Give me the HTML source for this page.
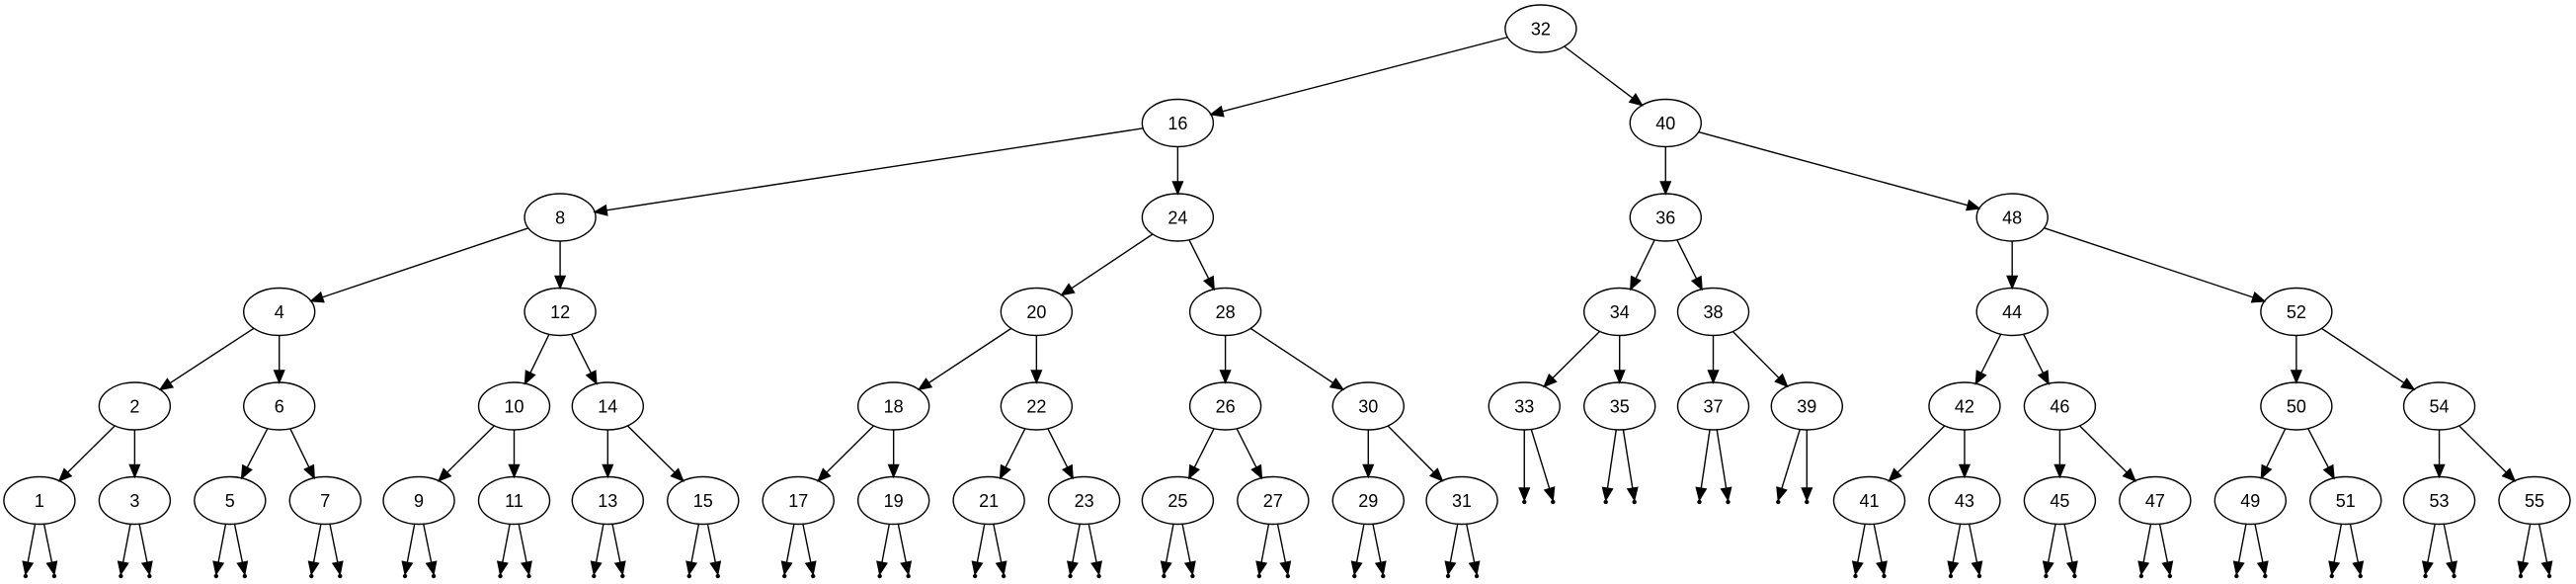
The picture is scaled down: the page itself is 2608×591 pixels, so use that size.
<!DOCTYPE html>
<html><head><meta charset="utf-8"><style>
html,body{margin:0;padding:0;background:#fff;}
svg{display:block;}
text{font-family:"Liberation Sans",Arial,sans-serif;font-size:18px;}
</style></head><body>
<svg id="s" width="2608" height="591" xmlns="http://www.w3.org/2000/svg"></svg>
<script>
const F=1.663;
const Y=[29,124.5,220,315.5,411,506.5];
const nodes={
32:[938,0],16:[717,1],40:[1014,1],
8:[341,2],24:[717,2],36:[1014,2],48:[1225,2],
4:[170,3],12:[341,3],20:[631,3],28:[746,3],34:[986,3],38:[1043,3],44:[1225,3],52:[1398,3],
2:[82,4],6:[170,4],10:[313,4],14:[370,4],18:[544,4],22:[631,4],26:[746,4],30:[833,4],33:[928,4],35:[986,4],37:[1043,4],39:[1100,4],42:[1196,4],46:[1254,4],50:[1398,4],54:[1485,4],
1:[24,5],3:[82,5],5:[140,5],7:[198,5],9:[255,5],11:[313,5],13:[370,5],15:[428,5],17:[486,5],19:[544,5],21:[602,5],23:[660,5],25:[717,5],27:[775,5],29:[833,5],31:[890,5],41:[1138,5],43:[1196,5],45:[1254,5],47:[1312,5],49:[1370,5],51:[1428,5],53:[1485,5],55:[1543,5]};
const edges=[[32,16],[32,40],[16,8],[16,24],[40,36],[40,48],[8,4],[8,12],[24,20],[24,28],[36,34],[36,38],[48,44],[48,52],
[4,2],[4,6],[12,10],[12,14],[20,18],[20,22],[28,26],[28,30],[34,33],[34,35],[38,37],[38,39],[44,42],[44,46],[52,50],[52,54],
[2,1],[2,3],[6,5],[6,7],[10,9],[10,11],[14,13],[14,15],[18,17],[18,19],[22,21],[22,23],[26,25],[26,27],[30,29],[30,31],[42,41],[42,43],[46,45],[46,47],[50,49],[50,51],[54,53],[54,55]];
const RX=36,RY=24;
let out='';
function P(k){const n=nodes[k];return [n[0]*F,Y[n[1]]];}
function clipE(cx,cy,dx,dy){const t=1/Math.sqrt((dx*dx)/(RX*RX)+(dy*dy)/(RY*RY));return [cx+dx*t,cy+dy*t];}
function arrow(x1,y1,x2,y2){
 const dx=x2-x1,dy=y2-y1,L=Math.hypot(dx,dy),ux=dx/L,uy=dy/L;
 const al=12,aw=5;
 const bx=x2-ux*al,by=y2-uy*al;
 out+=`<line x1="${x1}" y1="${y1}" x2="${bx}" y2="${by}" stroke="#000" stroke-width="1.4"/>`;
 out+=`<polygon points="${x2},${y2} ${bx-uy*aw},${by+ux*aw} ${bx+uy*aw},${by-ux*aw}" fill="#000" stroke="#000" stroke-width="1.4"/>`;
}
for(const [a,b] of edges){
 const [x1,y1]=P(a),[x2,y2]=P(b);
 const s=clipE(x1,y1,x2-x1,y2-y1),e=clipE(x2,y2,x1-x2,y1-y2);
 arrow(s[0],s[1],e[0],e[1]);
}
// dots
for(const k in nodes){
 const n=nodes[k];const kk=+k;
 const hasChild=edges.some(e=>e[0]===kk);
 if(hasChild)continue;
 const [cx,cy]=P(k);
 let offs=[-14,15];
 if(kk===33)offs=[0,29];
 if(kk===39)offs=[-29,0];
 const dy=n[1]===5?583:508;
 for(const o of offs){
  const tx=cx+o,ty=dy;
  const s=clipE(cx,cy,tx-cx,ty-cy);
  arrow(s[0],s[1],tx,ty-2);
  out+=`<circle cx="${tx}" cy="${ty}" r="2.2" fill="#000"/>`;
 }
}
for(const k in nodes){
 const [cx,cy]=P(k);
 out+=`<ellipse cx="${cx}" cy="${cy}" rx="${RX}" ry="${RY}" fill="none" stroke="#000" stroke-width="1.4"/>`;
 out+=`<text x="${cx}" y="${cy+6.5}" text-anchor="middle">${k}</text>`;
}
document.getElementById('s').innerHTML=out;
</script>
</body></html>
